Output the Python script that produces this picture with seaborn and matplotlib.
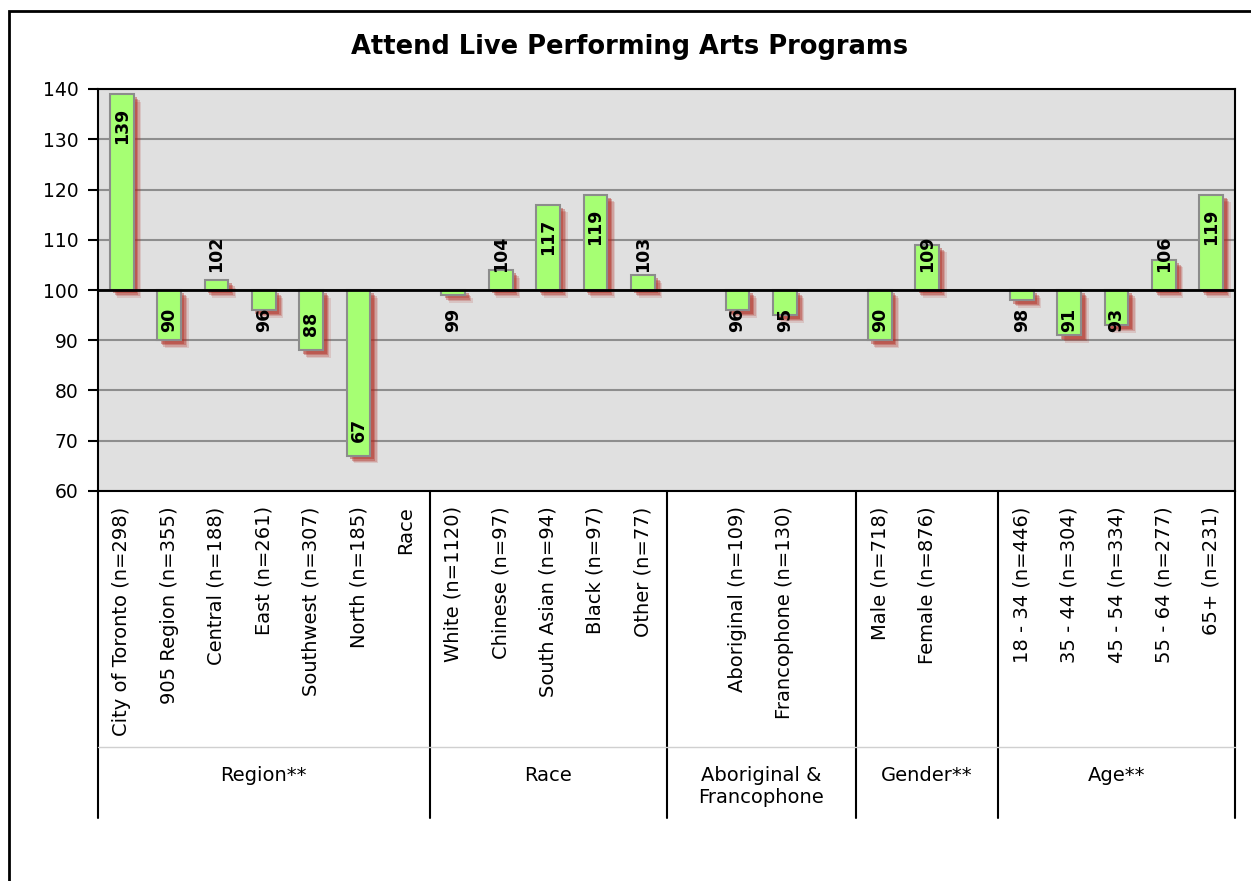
import numpy as np
import pandas as pd
import matplotlib
matplotlib.use("Agg")
import matplotlib.pyplot as plt
import matplotlib.patheffects as pe
from matplotlib.patches import Rectangle
import seaborn as sns

# Data (index values, base = 100); empty slots are spacer columns
categories = ["City of Toronto (n=298)", "905 Region (n=355)", "Central (n=188)",
              "East (n=261)", "Southwest (n=307)", "North (n=185)", "Race",
              "White (n=1120)", "Chinese (n=97)", "South Asian (n=94)", "Black (n=97)",
              "Other (n=77)",
              " ", "Aboriginal (n=109)", "Francophone (n=130)", "  ",
              "Male (n=718)", "Female (n=876)", "   ",
              "18 - 34 (n=446)", "35 - 44 (n=304)", "45 - 54 (n=334)",
              "55 - 64 (n=277)", "65+ (n=231)"]
values = [139, 90, 102, 96, 88, 67, np.nan,
          99, 104, 117, 119, 103,
          np.nan, 96, 95, np.nan,
          90, 109, np.nan,
          98, 91, 93, 106, 119]
group_names = ["Region**", "Race", "Aboriginal &\nFrancophone", "Gender**", "Age**"]
group_sizes = [7, 5, 4, 3, 5]
y_ticks = [60, 70, 80, 90, 100, 110, 120, 130, 140]
base = 100

df = pd.DataFrame({"category": categories, "value": values})
df["delta"] = df["value"] - base

sns.set_style("white")
plt.rcParams["font.family"] = ["DejaVu Sans"]
plt.rcParams["text.color"] = "black"
plt.rcParams["xtick.color"] = "black"
plt.rcParams["ytick.color"] = "black"

W, H = 1251, 881
fig = plt.figure(figsize=(W / 100, H / 100), dpi=100)
ax = fig.add_axes([98 / W, 1 - 491 / H, (1235 - 98) / W, (491 - 89) / H])
ax.set_facecolor("#e0e0e0")

for t in y_ticks:
    ax.axhline(t, color="#8e8e8e", lw=1.5, zorder=0)

sns.barplot(data=df, x="category", y="delta", order=categories, bottom=base,
            width=0.5, color="#a6ff73", saturation=1, edgecolor="#8c8c8c",
            linewidth=1.5, errorbar=None, ax=ax, zorder=3)

# soft red drop shadow
shadow = [pe.SimplePatchShadow(offset=(o, -o), shadow_rgbFace="#b0281e", alpha=a)
          for o, a in [(5.5, 0.15), (4.5, 0.22), (3.5, 0.32), (2.5, 0.4)]] + [pe.Normal()]
for p in ax.patches:
    p.set_path_effects(shadow)

ax.axhline(base, color="black", lw=2, zorder=4)

# value labels
for i, v in enumerate(values):
    if np.isnan(v):
        continue
    L = 6.6 if v >= 100 else 4.4
    if v >= base:
        y = max(v - 3.4 - L, base + 3.6)
        va = "bottom"
    else:
        y = min(v + 3.2 + L, base - 3.6)
        va = "top"
    ax.text(i, y, f"{int(v)}", rotation=90, ha="center", va=va,
            fontsize=12.5, fontweight="bold", zorder=6)

ax.set_xlim(-0.5, len(categories) - 0.5)
ax.set_ylim(60, 140)
ax.set_yticks(y_ticks)
ax.set_xlabel("")
ax.set_ylabel("")
ax.tick_params(axis="y", direction="out", length=7, width=1.5, color="black",
               labelsize=13.5, pad=7, left=True)
ax.set_xticks(range(len(categories)))
ax.set_xticklabels(categories, rotation=90, fontsize=14, va="top", ha="center")
ax.tick_params(axis="x", length=0, pad=11)
for s in ax.spines.values():
    s.set_color("black")
    s.set_linewidth(1.5)
    s.set_visible(True)

# group separators and labels below the axis
trans = ax.get_xaxis_transform()
edges = np.cumsum([0] + group_sizes) - 0.5
for e in edges:
    ax.plot([e, e], [0, -0.813], transform=trans, color="black", lw=1.5, clip_on=False)
ax.plot([edges[0], edges[-1]], [-0.637, -0.637], transform=trans, color="#d0d0d0",
        lw=1, clip_on=False)
centers = (edges[:-1] + edges[1:]) / 2
for c, name in zip(centers, group_names):
    ax.text(c, -0.683, name, transform=trans, ha="center", va="top", fontsize=14,
            linespacing=1.25)

fig.text(630 / W, 1 - 47 / H, "Attend Live Performing Arts Programs",
         ha="center", va="center", fontsize=18.5, fontweight="bold")

fig.patches.append(Rectangle((9 / W, -0.1), 1.2, 1 - 11 / H + 0.1,
                             transform=fig.transFigure, fill=False,
                             edgecolor="black", lw=2))

fig.savefig("out.png", dpi=100)
